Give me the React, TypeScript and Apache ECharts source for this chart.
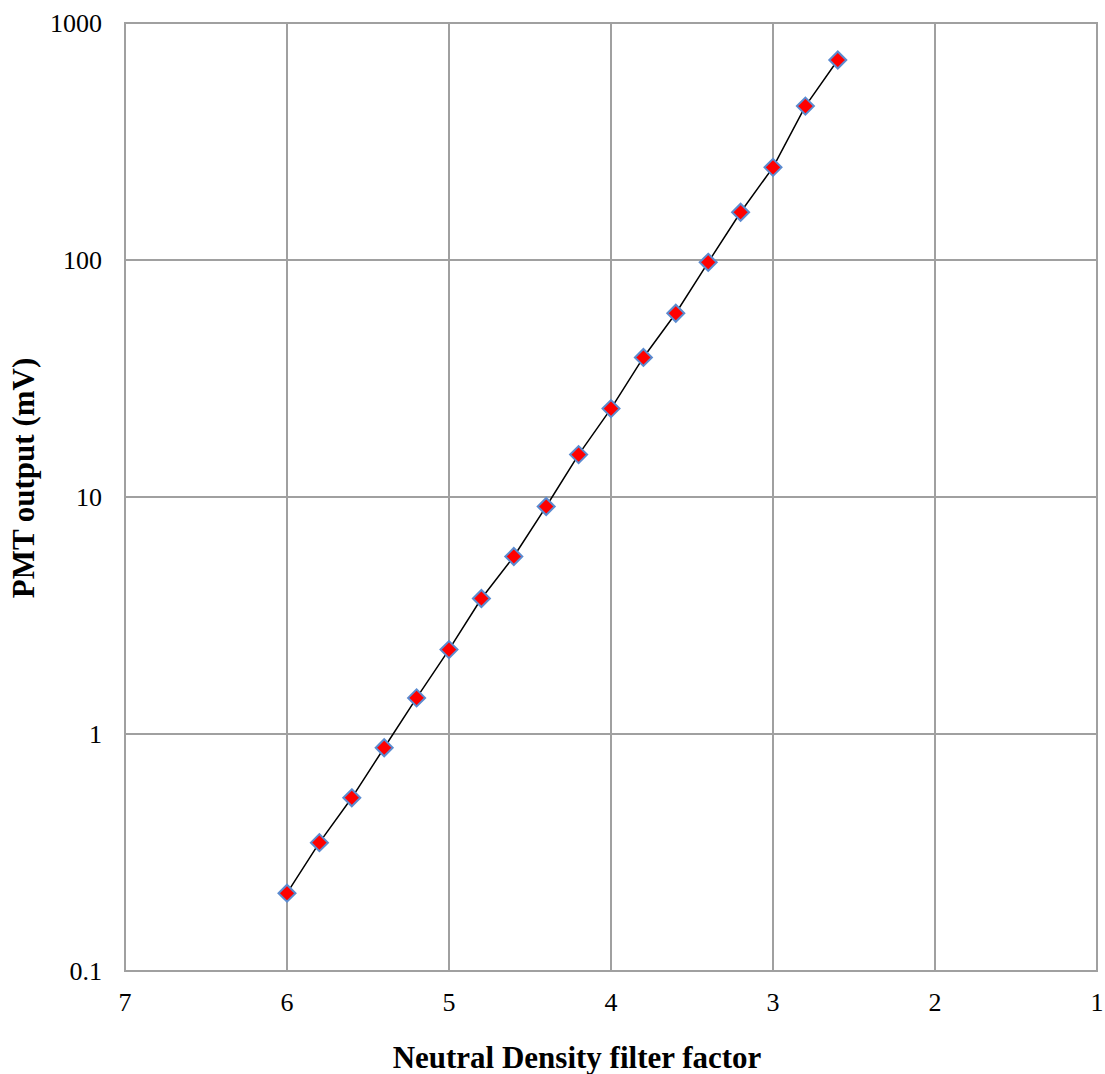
import React, { useEffect, useRef } from "react";
import * as echarts from "echarts";

const ndFactor = [6.0, 5.8, 5.6, 5.4, 5.2, 5.0, 4.8, 4.6, 4.4, 4.2, 4.0, 3.8, 3.6, 3.4, 3.2, 3.0, 2.8, 2.6];
const pmtOutput = [0.213, 0.348, 0.538, 0.875, 1.42, 2.27, 3.73, 5.61, 9.12, 15.1, 23.6, 38.8, 59.6, 97.8, 159, 246, 446, 698];

const xTitle = "Neutral Density filter factor";
const yTitle = "PMT output (mV)";

export default function App() {
  const ref = useRef<HTMLDivElement>(null);
  useEffect(() => {
    const chart = echarts.init(ref.current!, null, { renderer: "svg" });
    const font = "'Liberation Serif', 'Times New Roman', serif";
    const gridL = 125, gridR = 8, gridT = 23, gridB = 103;
    chart.setOption({
      animation: false,
      backgroundColor: "#fff",
      grid: { left: gridL, right: gridR, top: gridT, bottom: gridB, containLabel: false, outerBoundsMode: "none" },
      xAxis: {
        type: "value",
        inverse: true,
        min: 1,
        max: 7,
        interval: 1,
        axisLine: { show: true, lineStyle: { color: "#a0a0a0", width: 2 } },
        axisTick: { show: false },
        axisLabel: { fontFamily: font, fontSize: 26, color: "#000", margin: 18 },
        splitLine: { show: true, lineStyle: { color: "#a0a0a0", width: 2 } },
      },
      yAxis: {
        type: "log",
        logBase: 10,
        min: 0.1,
        max: 1000,
        axisLine: { show: true, lineStyle: { color: "#a0a0a0", width: 2 } },
        axisTick: { show: false },
        axisLabel: {
          fontFamily: font,
          fontSize: 26,
          color: "#000",
          margin: 23,
          formatter: (v: number) => (v < 1 ? String(Number(v.toFixed(1))) : String(Math.round(v))),
        },
        minorSplitLine: { show: false },
        splitLine: { show: true, lineStyle: { color: "#a0a0a0", width: 2 } },
      },
      graphic: [
        {
          type: "rect",
          shape: { x: gridL, y: gridT, width: 1105 - gridL - gridR, height: 1074 - gridT - gridB },
          style: { fill: "none", stroke: "#a0a0a0", lineWidth: 2 },
          silent: true,
          z: -1,
        },
        {
          type: "text",
          x: 577,
          y: 1057,
          style: {
            text: xTitle,
            font: `bold 31px ${font}`,
            fill: "#000",
            align: "center",
            verticalAlign: "middle",
          },
        },
        {
          type: "text",
          x: 23,
          y: 478,
          rotation: Math.PI / 2,
          style: {
            text: yTitle,
            font: `bold 31px ${font}`,
            fill: "#000",
            align: "center",
            verticalAlign: "middle",
          },
        },
      ],
      series: [
        {
          type: "line",
          data: ndFactor.map((x, i) => [x, pmtOutput[i]]),
          symbol: "diamond",
          symbolSize: 17,
          itemStyle: { color: "#ff0000", borderColor: "#5b8bd0", borderWidth: 2 },
          lineStyle: { color: "#000", width: 1.5 },
          z: 3,
        },
      ],
    });
    return () => chart.dispose();
  }, []);
  return <div ref={ref} style={{ width: 1105, height: 1074, position: "absolute", left: 0, top: 0 }} />;
}
